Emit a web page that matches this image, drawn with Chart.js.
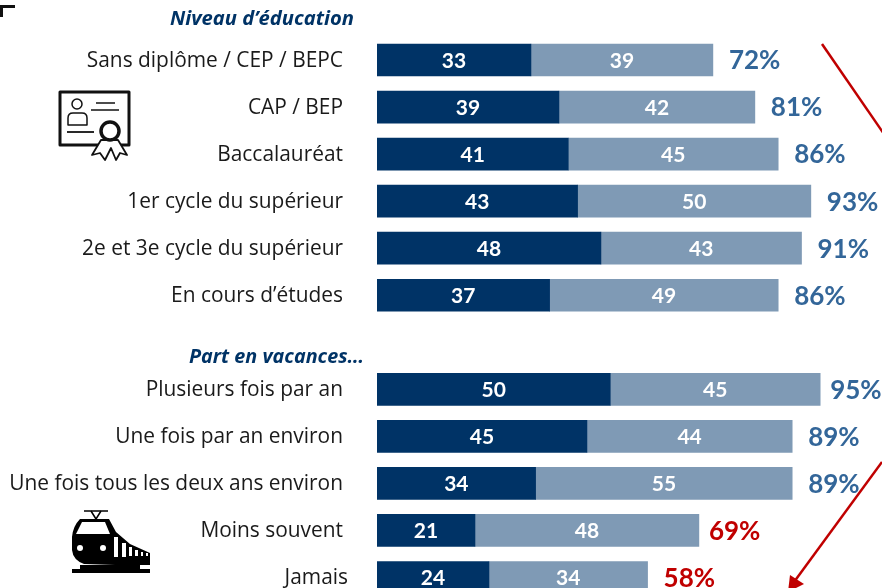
<!DOCTYPE html>
<html>
<head>
<meta charset="utf-8">
<style>
html, body { margin: 0; padding: 0; background: #fff; overflow: hidden; }
#wrap { width: 882px; height: 588px; overflow: hidden; }
canvas { display: block; }
</style>
<script src="https://cdn.jsdelivr.net/npm/chart.js@4/dist/chart.umd.js"></script>
</head>
<body>
<div id="wrap"><canvas id="myChart" style="width:882px;height:601px" width="882" height="601"></canvas></div>
<script>
// blank entry = gap row above "Part en vacances..."
var categories = ['Sans diplôme / CEP / BEPC', 'CAP / BEP', 'Baccalauréat', '1er cycle du supérieur', '2e et 3e cycle du supérieur', 'En cours d’études', '', 'Plusieurs fois par an', 'Une fois par an environ', 'Une fois tous les deux ans environ', 'Moins souvent', 'Jamais'];
var darkValues = [33, 39, 41, 43, 48, 37, null, 50, 45, 34, 21, 24];
var lightValues = [39, 42, 45, 50, 43, 49, null, 45, 44, 55, 48, 34];
var totals = [72, 81, 86, 93, 91, 86, null, 95, 89, 89, 69, 58];
var redTotals = [69, 58];

var DARK = '#003366';
var LIGHT = '#7f9ab5';
var BLUE = '#336699';
var RED = '#c00000';

function line(ctx, pts) {
    ctx.beginPath();
    ctx.moveTo(pts[0], pts[1]);
    for (var i = 2; i < pts.length; i += 2) ctx.lineTo(pts[i], pts[i + 1]);
    ctx.stroke();
}

function drawCertificate(ctx) {
    ctx.save();
    ctx.strokeStyle = '#111';
    ctx.lineWidth = 3;
    ctx.lineJoin = 'round';
    ctx.strokeRect(60, 92, 69, 53);
    ctx.lineWidth = 1.5;
    ctx.beginPath(); ctx.arc(77, 104, 5, 0, Math.PI * 2); ctx.stroke();
    ctx.beginPath();
    ctx.moveTo(68, 125); ctx.lineTo(68, 118); ctx.quadraticCurveTo(68, 113, 73, 113);
    ctx.lineTo(82, 113); ctx.quadraticCurveTo(87, 113, 87, 118); ctx.lineTo(87, 125); ctx.closePath();
    ctx.stroke();
    line(ctx, [96, 103, 115, 103]);
    line(ctx, [91, 110, 119, 110]);
    ctx.lineWidth = 1.8;
    line(ctx, [67, 132, 94, 132]);
    // ribbon and seal
    ctx.fillStyle = '#fff';
    ctx.lineWidth = 1.8;
    ctx.beginPath();
    ctx.moveTo(101, 140); ctx.lineTo(92, 155); ctx.lineTo(100, 153); ctx.lineTo(105, 160); ctx.lineTo(111, 148);
    ctx.lineTo(116, 160); ctx.lineTo(120, 153); ctx.lineTo(127, 155); ctx.lineTo(118, 140); ctx.closePath();
    ctx.fill(); ctx.stroke();
    ctx.lineWidth = 3.5;
    ctx.beginPath(); ctx.arc(110, 131, 9, 0, Math.PI * 2); ctx.fill(); ctx.stroke();
    ctx.restore();
}

function drawTrain(ctx) {
    ctx.save();
    ctx.strokeStyle = '#000';
    ctx.fillStyle = '#000';
    ctx.lineWidth = 1.5;
    line(ctx, [84, 511, 108, 511]);
    line(ctx, [91, 511, 96, 519, 101, 511]);
    // body
    ctx.beginPath();
    ctx.moveTo(80, 519); ctx.lineTo(109, 519); ctx.lineTo(116, 532);
    ctx.lineTo(130, 544); ctx.lineTo(150, 553); ctx.lineTo(150, 565); ctx.lineTo(115, 565);
    ctx.lineTo(84, 564); ctx.quadraticCurveTo(73, 560, 72, 550); ctx.lineTo(72, 537);
    ctx.quadraticCurveTo(73, 526, 80, 519);
    ctx.closePath();
    ctx.fill();
    // track
    ctx.fillRect(72, 569, 78, 4);
    ctx.fillRect(80, 565, 60, 5);
    // windscreen, lamps and side windows
    ctx.fillStyle = '#fff';
    ctx.beginPath();
    ctx.moveTo(82, 522); ctx.lineTo(105, 522); ctx.lineTo(110, 534); ctx.lineTo(76, 534);
    ctx.closePath();
    ctx.fill();
    ctx.beginPath(); ctx.arc(80, 548, 3, 0, Math.PI * 2); ctx.fill();
    ctx.beginPath(); ctx.arc(103, 548, 3, 0, Math.PI * 2); ctx.fill();
    var wx = [114, 122, 129, 135, 141, 146];
    var wy = [537, 543, 547, 550, 552, 553];
    var ww = [4, 4, 3, 3, 2, 2];
    for (var i = 0; i < wx.length; i++) ctx.fillRect(wx[i], wy[i], ww[i], 556 - wy[i] + (i < 2 ? 1 : 0));
    ctx.restore();
}

function drawArrows(ctx) {
    ctx.save();
    ctx.strokeStyle = RED;
    ctx.fillStyle = RED;
    ctx.lineWidth = 2.5;
    line(ctx, [822, 44, 884, 134]);
    line(ctx, [882, 462, 794, 582]);
    ctx.beginPath();
    ctx.moveTo(788, 592); ctx.lineTo(790, 575); ctx.lineTo(804, 584);
    ctx.closePath();
    ctx.fill();
    ctx.restore();
}

var extras = {
    id: 'extras',
    beforeDraw: function (chart) {
        // Jamais sits a little further right than the other labels
        var items = chart.scales.y.getLabelItems();
        items.forEach(function (item) {
            if (item.label === 'Jamais' && !item.moved) {
                item.options.translation[0] += 5;
                item.moved = true;
            }
        });
    },
    afterDatasetsDraw: function (chart) {
        var ctx = chart.ctx;
        var x = chart.scales.x;
        var y = chart.scales.y;
        ctx.save();

        // numbers inside the segments
        ctx.fillStyle = '#fff';
        ctx.font = 'bold 21px Lato';
        ctx.textAlign = 'center';
        ctx.textBaseline = 'middle';
        categories.forEach(function (c, i) {
            if (darkValues[i] === null) return;
            var yPos = y.getPixelForValue(i) + 1;
            ctx.fillText(darkValues[i], (x.getPixelForValue(0) + x.getPixelForValue(darkValues[i])) / 2, yPos);
            ctx.fillText(lightValues[i], (x.getPixelForValue(darkValues[i]) + x.getPixelForValue(totals[i])) / 2, yPos);
        });

        // totals at the end of the bars
        ctx.font = 'bold 26px Lato';
        ctx.textAlign = 'left';
        categories.forEach(function (c, i) {
            if (totals[i] === null) return;
            var isRed = redTotals.indexOf(totals[i]) >= 0;
            var gap = (totals[i] === 95 || totals[i] === 69) ? 10 : 16;
            ctx.fillStyle = isRed ? RED : BLUE;
            ctx.fillText(totals[i] + '%', x.getPixelForValue(totals[i]) + gap, y.getPixelForValue(i) + 1);
        });

        // group titles
        ctx.fillStyle = DARK;
        ctx.font = 'italic bold 20.2px "Open Sans"';
        ctx.textAlign = 'right';
        ctx.fillText('Niveau d’éducation', 354, 19);
        ctx.font = 'italic bold 19.8px "Open Sans"';
        ctx.fillText('Part en vacances…', 364, 357);

        // corner mark top left
        ctx.fillStyle = '#111';
        ctx.fillRect(0, 5, 15, 3);
        ctx.fillRect(0, 5, 3, 12);

        drawCertificate(ctx);
        drawTrain(ctx);
        drawArrows(ctx);
        ctx.restore();
    }
};

var ctx = document.getElementById('myChart').getContext('2d');

var myChart = new Chart(ctx, {
    type: 'bar',
    data: {
        labels: categories,
        datasets: [{
            label: 'dark',
            data: darkValues,
            backgroundColor: DARK,
            barThickness: 32
        },
        {
            label: 'light',
            data: lightValues,
            backgroundColor: LIGHT,
            barThickness: 32
        }]
    },
    plugins: [extras],
    options: {
        indexAxis: 'y',
        responsive: false,
        maintainAspectRatio: false,
        animation: false,
        layout: { padding: { top: 36.5, right: 38.5, bottom: 0, left: 0 } },
        plugins: {
            legend: { display: false },
            tooltip: { enabled: false }
        },
        scales: {
            x: {
                stacked: true,
                min: 0,
                max: 100,
                display: false
            },
            y: {
                stacked: true,
                grid: { display: false, drawTicks: false },
                border: { display: false },
                ticks: {
                    color: '#1a1a1a',
                    font: { family: 'Open Sans', size: 20.9 },
                    padding: 34,
                    labelOffset: 1,
                    autoSkip: false
                },
                afterFit: function (scale) {
                    scale.width = 377;
                    // tick padding would otherwise shrink the plot top and bottom
                    scale.paddingTop = 0;
                    scale.paddingBottom = 0;
                }
            }
        }
    }
});
</script>
</body>
</html>
